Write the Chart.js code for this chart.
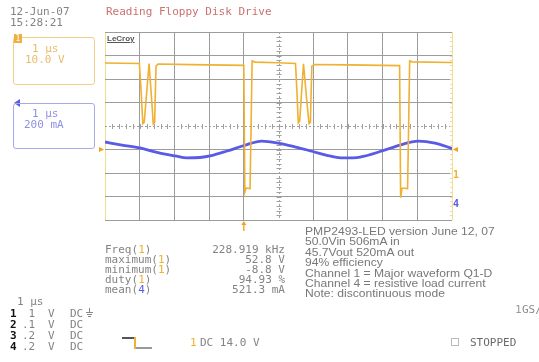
<!DOCTYPE html>
<html>
<head>
<meta charset="utf-8">
<script src="https://cdn.jsdelivr.net/npm/chart.js@4.4.1/dist/chart.umd.min.js"></script>
<style>
  body { margin: 0; background: #fff; }
  #wrap { position: relative; width: 539px; height: 362px; overflow: hidden; }
  #scope { position: absolute; left: 0; top: 0; }
  .t { position: absolute; font-family: 'DejaVu Sans Mono', monospace; font-size: 11px; line-height: 11px; color: #838383; white-space: pre; }
  .s { position: absolute; font-family: 'Liberation Sans', Arial, sans-serif; font-size: 11px; line-height: 11px; color: #787878; white-space: pre; transform: scaleX(1.1); transform-origin: left center; }
  .box { position: absolute; border-radius: 3px; }
  .ln { position: absolute; }
</style>
</head>
<body>
<div id="wrap">
  <canvas id="scope" width="539" height="362"></canvas>

  <div class="t" style="left:10px;top:6px;">12-Jun-07</div>
  <div class="t" style="left:10px;top:17px;">15:28:21</div>
  <div class="t" style="left:106px;top:6px;color:#cc7070;">Reading Floppy Disk Drive</div>

  <!-- channel 1 box -->
  <div class="box" style="left:13px;top:37px;width:80px;height:46px;border:1.5px solid #efcf88;"></div>
  <div class="t" style="left:14px;top:34px;width:8px;height:9px;background:#f0b040;color:#fff;font-size:8px;line-height:9px;text-align:center;">1</div>
  <div class="t" style="left:32px;top:43px;color:#e6bd6a;">1 µs</div>
  <div class="t" style="left:25px;top:54px;color:#e6bd6a;">10.0 V</div>

  <!-- channel 4 box -->
  <div class="box" style="left:13px;top:103px;width:80px;height:44px;border:1.5px solid #a8a8ec;"></div>
  <div class="t" style="left:32px;top:108px;color:#9090e2;">1 µs</div>
  <div class="t" style="left:24px;top:119px;color:#9090e2;">200 mA</div>

  <div class="t" style="left:107px;top:34px;font-family:'Liberation Sans',Arial,sans-serif;font-size:8px;line-height:9px;font-weight:bold;color:#555;text-decoration:underline;">LeCroy</div>

  <div id="meas"></div>
  <div id="notes"></div>

  <div class="t" style="left:17px;top:296px;">1 µs</div>
  <div id="chans"></div>
  <div class="ln" style="left:89px;top:308px;width:1px;height:4px;background:#888;"></div>
  <div class="ln" style="left:86px;top:312px;width:7px;height:1px;background:#888;"></div>
  <div class="ln" style="left:87px;top:314px;width:5px;height:1px;background:#888;"></div>
  <div class="ln" style="left:88px;top:316px;width:3px;height:1px;background:#888;"></div>

  <!-- trigger slope symbol -->
  <div class="ln" style="left:122px;top:337px;width:12px;height:1.5px;background:#555;"></div>
  <div class="ln" style="left:134px;top:337px;width:2px;height:12px;background:#f0b030;"></div>
  <div class="ln" style="left:136px;top:347px;width:16px;height:1.5px;background:#999;"></div>
  <div class="t" style="left:190px;top:337px;color:#f0b030;">1</div>
  <div class="t" style="left:200px;top:337px;">DC 14.0 V</div>

  <div class="t" style="left:515px;top:304px;color:#9a9a9a;">1</div>
  <div class="t" style="left:522px;top:304px;color:#8a8a8a;">GS/s</div>
  <div class="ln" style="left:451px;top:338px;width:6px;height:6px;border:1px solid #bbb;"></div>
  <div class="t" style="left:470px;top:337px;color:#6a6a6a;">STOPPED</div>
</div>

<script>
// channel 1: switch node Q1-D, volts (10 V/div)
const ch1Time  = [0, 0.99, 1.04, 1.09, 1.13, 1.27, 1.35, 1.39, 1.43, 1.47, 1.53, 2.5, 4.0, 4.03, 4.07, 4.18, 4.21, 4.24, 4.32, 5.0, 5.49, 5.53, 5.57, 5.61, 5.72, 5.82, 5.88, 5.92, 5.96, 6.03, 7.0, 8.49, 8.52, 8.56, 8.72, 8.75, 8.78, 8.85, 10];
const ch1Volts = [46.8, 46.6, 35, 21.0, 21.5, 46.6, 30, 20.9, 21.5, 45.5, 46.4, 46.1, 45.8, -8.1, -6.4, -6.6, 20, 47.7, 47.2, 46.9, 46.6, 35, 21.3, 22, 46.5, 30, 21.0, 21.5, 45.5, 46.2, 46.0, 45.7, -10.5, -6.4, -6.6, 20, 47.7, 47.3, 47.0];

// channel 4: load current, mA (200 mA/div)
const ch4Time = [0, 0.49, 1.01, 1.50, 2.02, 2.36, 2.74, 3.03, 3.52, 4.01, 4.52, 4.99, 5.50, 5.99, 6.48, 6.86, 7.35, 7.98, 8.50, 9.02, 9.51, 10];
const ch4Milliamps = [514, 488, 463, 425, 395, 378, 382, 395, 437, 484, 522, 505, 471, 433, 395, 378, 386, 437, 488, 522, 505, 459];

const ch1Range = [-20, 60];
const ch4Range = [-150, 1450];
const triggerTime = 4.0;
const triggerLevel = 10;

const measNames  = ['Freq', 'maximum', 'minimum', 'duty', 'mean'];
const measChans  = ['1', '1', '1', '1', '4'];
const measValues = ['228.919 kHz', '52.8 V', '-8.8 V', '94.93 %', '521.3 mA'];

const noteLines = ['PMP2493-LED version June 12, 07', '50.0Vin 506mA in', '45.7Vout 520mA out', '94% efficiency',
  'Channel 1 = Major waveform Q1-D', 'Channel 4 = resistive load current', 'Note: discontinuous mode'];

const chanNums  = ['1', '2', '3', '4'];
const chanVolts = [' 1', '.1', '.2', '.2'];

// text blocks
const meas = document.getElementById('meas');
measNames.forEach((n, i) => {
  const top = 244 + i * 10;
  const col = measChans[i] === '4' ? '#5a5ae6' : '#f0b030';
  meas.insertAdjacentHTML('beforeend',
    `<div class="t" style="left:105px;top:${top}px;">${n}(<span style="color:${col}">${measChans[i]}</span>)</div>` +
    `<div class="t" style="left:165px;top:${top}px;width:120px;text-align:right;">${measValues[i]}</div>`);
});
const notes = document.getElementById('notes');
noteLines.forEach((l, i) => {
  notes.insertAdjacentHTML('beforeend', `<div class="s" style="left:305px;top:${226 + i * 10.4}px;">${l}</div>`);
});
const chans = document.getElementById('chans');
chanNums.forEach((c, i) => {
  const top = 308 + i * 11;
  chans.insertAdjacentHTML('beforeend',
    `<div class="t" style="left:10px;top:${top}px;color:#111;font-weight:bold;">${c}</div>` +
    `<div class="t" style="left:22px;top:${top}px;">${chanVolts[i]}</div>` +
    `<div class="t" style="left:48px;top:${top}px;">V</div>` +
    `<div class="t" style="left:70px;top:${top}px;">DC</div>`);
});

const scopeDecor = {
  id: 'scopeDecor',
  beforeDatasetsDraw(chart) {
    const { ctx, chartArea: a, scales } = chart;
    const cx = scales.x.getPixelForValue(5);
    const cy = scales.y.getPixelForValue(20);
    const dx = (a.right - a.left) / 50;
    const dy = (a.bottom - a.top) / 40;
    ctx.save();
    ctx.strokeStyle = '#a0a0a0';
    ctx.lineWidth = 1;
    ctx.setLineDash([2, 2]);
    ctx.beginPath();
    ctx.moveTo(a.left, Math.round(cy) + 0.5); ctx.lineTo(a.right, Math.round(cy) + 0.5);
    ctx.moveTo(Math.round(cx) + 0.5, a.top); ctx.lineTo(Math.round(cx) + 0.5, a.bottom);
    ctx.stroke();
    ctx.setLineDash([]);
    ctx.beginPath();
    for (let i = 1; i < 50; i++) {
      const x = Math.round(a.left + i * dx) + 0.5;
      ctx.moveTo(x, cy - 2); ctx.lineTo(x, cy + 3);
    }
    for (let j = 1; j < 40; j++) {
      const y = Math.round(a.top + j * dy) + 0.5;
      ctx.moveTo(cx - 2, y); ctx.lineTo(cx + 3, y);
    }
    ctx.stroke();
    ctx.strokeStyle = '#f3dc96';
    ctx.beginPath();
    for (let j = 1; j < 40; j++) {
      const y = Math.round(a.top + j * dy) + 0.5;
      ctx.moveTo(a.right - 2, y); ctx.lineTo(a.right, y);
    }
    ctx.stroke();
    ctx.restore();
  },
  afterDraw(chart) {
    const { ctx, chartArea: a, scales } = chart;
    ctx.save();
    ctx.fillStyle = '#f0a020';
    const ty = scales.y.getPixelForValue(triggerLevel);
    ctx.beginPath();
    ctx.moveTo(a.left - 6, ty - 2.5); ctx.lineTo(a.left - 1, ty); ctx.lineTo(a.left - 6, ty + 2.5); ctx.fill();
    ctx.beginPath();
    ctx.moveTo(a.right + 6, ty - 2.5); ctx.lineTo(a.right + 1, ty); ctx.lineTo(a.right + 6, ty + 2.5); ctx.fill();
    // trigger position marker
    const tx = scales.x.getPixelForValue(triggerTime);
    ctx.strokeStyle = '#f0b030';
    ctx.lineWidth = 1.5;
    ctx.beginPath(); ctx.moveTo(tx, a.bottom + 3); ctx.lineTo(tx, a.bottom + 11); ctx.stroke();
    ctx.beginPath(); ctx.moveTo(tx - 2.5, a.bottom + 5); ctx.lineTo(tx, a.bottom + 1); ctx.lineTo(tx + 2.5, a.bottom + 5); ctx.fill();
    // ground level markers on right
    ctx.font = 'bold 10px "DejaVu Sans Mono", monospace';
    ctx.textBaseline = 'middle';
    ctx.fillStyle = '#f0b030';
    ctx.fillText('1', a.right + 1, scales.y.getPixelForValue(0) + 2);
    ctx.fillStyle = '#5a5ae6';
    ctx.fillText('4', a.right + 1, scales.y4.getPixelForValue(0) + 2);
    // ch4 box arrow
    ctx.beginPath();
    ctx.moveTo(14, 103); ctx.lineTo(20, 99); ctx.lineTo(20, 107); ctx.fill();
    ctx.restore();
  }
};

new Chart(document.getElementById('scope').getContext('2d'), {
  type: 'line',
  data: {
    datasets: [
      {
        label: 'Channel 1',
        data: ch1Time.map((t, i) => ({ x: t, y: ch1Volts[i] })),
        borderColor: '#f0b030',
        borderWidth: 1.6,
        pointRadius: 0,
        tension: 0,
        yAxisID: 'y'
      },
      {
        label: 'Channel 4',
        data: ch4Time.map((t, i) => ({ x: t, y: ch4Milliamps[i] })),
        borderColor: '#5a5ae6',
        borderWidth: 2.8,
        pointRadius: 0,
        tension: 0.4,
        cubicInterpolationMode: 'monotone',
        yAxisID: 'y4'
      }
    ]
  },
  options: {
    responsive: false,
    animation: false,
    devicePixelRatio: 1,
    layout: { padding: { left: 105, top: 32, right: 87, bottom: 142 } },
    plugins: { legend: { display: false }, tooltip: { enabled: false } },
    scales: {
      x: {
        type: 'linear', min: 0, max: 10,
        ticks: { display: false, stepSize: 1 },
        grid: {
          drawTicks: false,
          color: (c) => (c.tick.value === 0 || c.tick.value === 10) ? '#f3dc96' : (c.tick.value === 5 ? 'rgba(0,0,0,0)' : '#9c9c9c')
        },
        border: { display: false }
      },
      y: {
        min: ch1Range[0], max: ch1Range[1],
        ticks: { display: false, stepSize: 10 },
        grid: { drawTicks: false, color: (c) => c.tick.value === 20 ? 'rgba(0,0,0,0)' : '#9c9c9c' },
        border: { display: false }
      },
      y4: { min: ch4Range[0], max: ch4Range[1], display: false }
    }
  },
  plugins: [scopeDecor]
});
</script>
</body>
</html>
